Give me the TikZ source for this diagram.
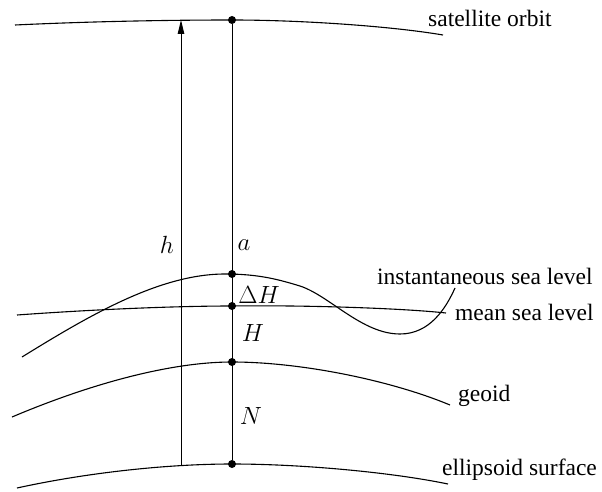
\documentclass[tikz,border=0pt]{standalone}
\usepackage{fontspec}
\setmainfont{Liberation Serif}
\usetikzlibrary{arrows.meta}
\tikzset{
  curveline/.style={line width=1.1pt, black},
  vline/.style={line width=1pt, black},
  dotmark/.style={circle, fill=black, inner sep=0pt, minimum size=8pt},
  lbl/.style={font=\fontsize{23.5}{28}\selectfont, inner sep=0pt, anchor=west},
  mlbl/.style={font=\fontsize{24}{28}\selectfont, inner sep=0pt},
}
\begin{document}
\begin{tikzpicture}[x=1pt,y=-1pt]
\useasboundingbox (0,0) rectangle (602,492);
% surfaces
\draw[curveline] (15,25) .. controls (100,21) and (180,20) .. (232,20) .. controls (300,20) and (390,26) .. (443,35);
\draw[curveline] (17,315) .. controls (100,309) and (180,306) .. (232,306) .. controls (300,305) and (400,308) .. (446,313);
\draw[curveline] (22,357) .. controls (90,315) and (160,274) .. (225,274) .. controls (260,274) and (280,280) .. (300,286) .. controls (330,296) and (362,334) .. (400,334) .. controls (430,334) and (446,308) .. (455,288);
\draw[curveline] (12,417) .. controls (90,384) and (170,362) .. (232,362) .. controls (300,362) and (390,380) .. (450,405);
\draw[curveline] (17,488) .. controls (90,472) and (170,464) .. (232,464) .. controls (300,464) and (390,472) .. (448,484);
% points
\node[dotmark] (orb) at (232,20) {};
\node[dotmark] (isl) at (232,274) {};
\node[dotmark] (msl) at (232,306) {};
\node[dotmark] (geo) at (232,362) {};
\node[dotmark] (ell) at (232,464) {};
\coordinate (hbot) at (181,465);
\coordinate (htop) at (181,20);
% verticals
\draw[vline] (orb) -- (ell);
\draw[vline, -{Triangle[length=14pt,width=6.5pt]}] (hbot) -- (htop);
% math labels
\node[mlbl] (h) at (167,245) {$h$};
\node[mlbl] (a) at (244,245) {$a$};
\node[mlbl] (dH) at (259,295) {$\Delta H$};
\node[mlbl] (H) at (253,333) {$H$};
\node[mlbl] (N) at (251,416) {$N$};
% text labels
\node[lbl] (tso) at (428,18) {satellite orbit};
\node[lbl] (tisl) at (377,276) {instantaneous sea level};
\node[lbl] (tmsl) at (455,312) {mean sea level};
\node[lbl] (tgeo) at (458,396) {geoid};
\node[lbl] (tell) at (442,470) {ellipsoid surface};
\end{tikzpicture}
\end{document}
